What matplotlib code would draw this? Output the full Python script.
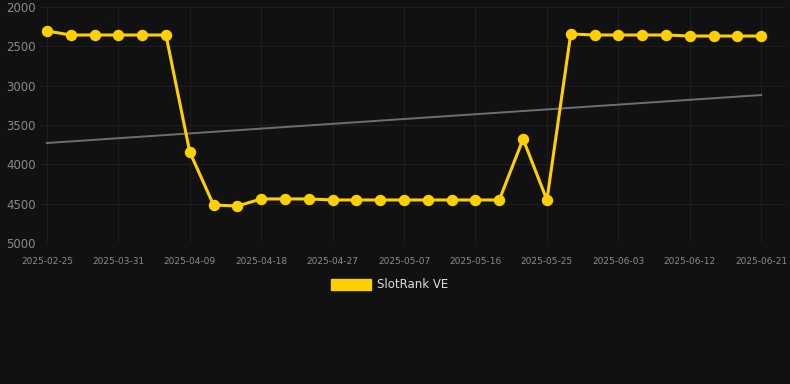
import matplotlib
matplotlib.use("Agg")
from matplotlib import pyplot as plt
from matplotlib.patches import Patch

# dates (category axis, every 3rd one labelled)
dates = ["2025-02-25", "2025-03-06", "2025-03-20", "2025-03-31", "2025-04-03", "2025-04-06",
         "2025-04-09", "2025-04-12", "2025-04-15", "2025-04-18", "2025-04-21", "2025-04-24",
         "2025-04-27", "2025-04-30", "2025-05-04", "2025-05-07", "2025-05-10", "2025-05-13",
         "2025-05-16", "2025-05-19", "2025-05-22", "2025-05-25", "2025-05-28", "2025-05-31",
         "2025-06-03", "2025-06-06", "2025-06-09", "2025-06-12", "2025-06-15", "2025-06-18",
         "2025-06-21"]
rank = [2305, 2356, 2356, 2356, 2356, 2356, 3843, 4517, 4530, 4440, 4440, 4440,
        4453, 4453, 4453, 4453, 4453, 4453, 4453, 4453, 3678, 4453, 2343, 2356,
        2356, 2356, 2356, 2369, 2369, 2369, 2369]
trend = [3729, 3119]
y_ticks = [2000, 2500, 3000, 3500, 4000, 4500, 5000]

bg = "#111111"
yellow = "#FFD000"

fig = plt.figure(figsize=(7.9, 3.84), dpi=100, facecolor=bg)
ax = fig.add_axes([40 / 790, 1 - 243 / 384, 745 / 790, 236 / 384], facecolor=bg)

x = list(range(len(rank)))
ax.plot([x[0], x[-1]], trend, color="#6e6e6e", lw=1.4, zorder=2)
ax.plot(x, rank, color=yellow, lw=2.2, marker="o", ms=7.2, zorder=3)

ax.set_xlim(-0.29, 31.0)
ax.set_ylim(5000, 2000)
ax.set_yticks(y_ticks)
ax.set_xticks(x[::3])
ax.set_xticklabels(dates[::3])

for s in ax.spines.values():
    s.set_visible(False)
ax.grid(True, color="#1e1e1e", lw=0.8)
ax.tick_params(length=0, colors="#8a8a8a")
ax.tick_params(axis="y", labelsize=8.5, pad=3)
ax.tick_params(axis="x", labelsize=6.5, pad=10)

leg = fig.legend(handles=[Patch(color=yellow, label="SlotRank VE")],
                 loc="center", bbox_to_anchor=(0.493, 1 - 285 / 384), frameon=False,
                 fontsize=8.5, handlelength=3.4, handleheight=1.0, handletextpad=0.5)
for t in leg.get_texts():
    t.set_color("#dddddd")

fig.savefig("out.png", dpi=100, facecolor=bg)
